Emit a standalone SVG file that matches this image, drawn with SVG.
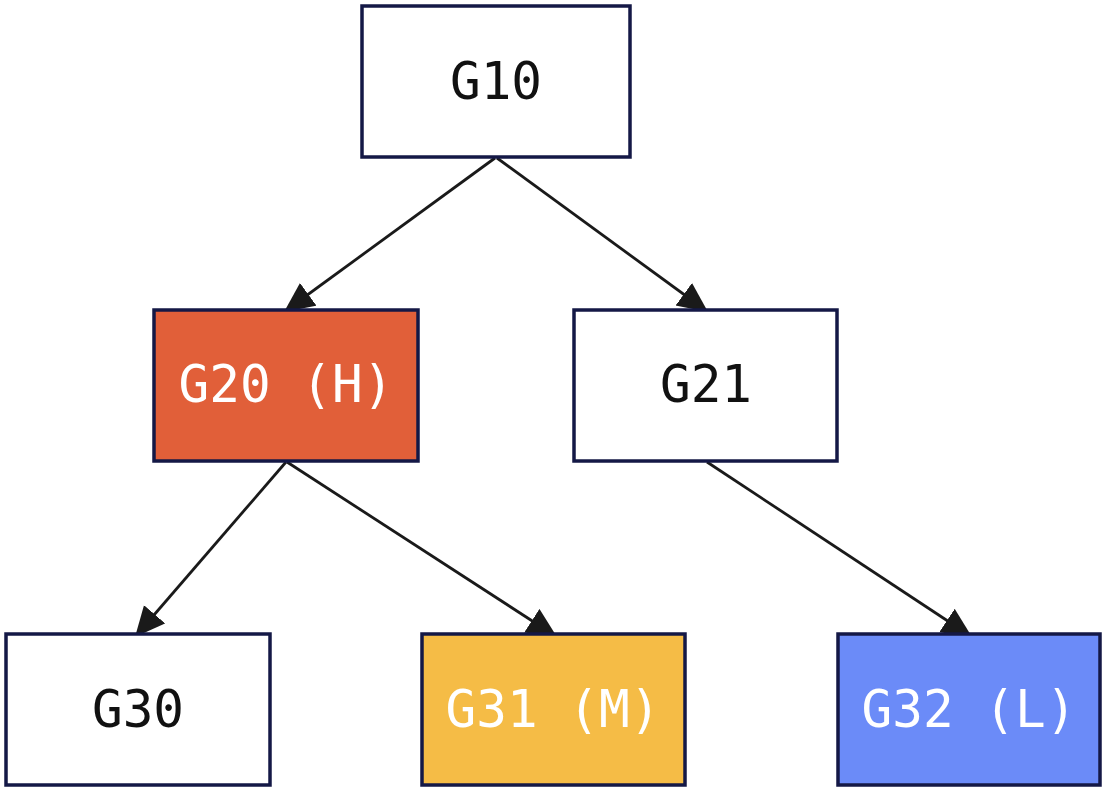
<svg xmlns="http://www.w3.org/2000/svg" width="1104" height="788" viewBox="0 0 1104 788">
<style>
.box{stroke:#141846;stroke-width:3.5}
.lbl{font-family:"DejaVu Sans Mono","Liberation Mono",monospace;font-size:51px;text-anchor:middle}
.dark{fill:#111111}
.light{fill:#ffffff}
.edge{stroke:#1a1a1a;stroke-width:2.8;fill:none;marker-end:url(#ah)}
</style>
<defs>
<marker id="ah" markerUnits="userSpaceOnUse" markerWidth="32" markerHeight="30" refX="30" refY="14" orient="auto">
<path d="M0,0 L30,14 L0,28 Z" fill="#1a1a1a"/>
</marker>
</defs>
<rect width="1104" height="788" fill="#ffffff"/>
<g id="connectors">
<line class="edge" x1="495" y1="158" x2="284" y2="312"/>
<line class="edge" x1="497" y1="158" x2="708" y2="312"/>
<line class="edge" x1="286" y1="462" x2="135" y2="637"/>
<line class="edge" x1="287" y1="462" x2="557" y2="637"/>
<line class="edge" x1="707" y1="462" x2="972" y2="637"/>
</g>
<g id="G10">
<rect class="box" x="362" y="6" width="268" height="151" fill="#ffffff"/>
<text class="lbl dark" x="496" y="99">G10</text>
</g>
<g id="G20">
<rect class="box" x="154" y="310" width="264" height="151" fill="#e15f39"/>
<text class="lbl light" x="286" y="402">G20 (H)</text>
</g>
<g id="G21">
<rect class="box" x="574" y="310" width="263" height="151" fill="#ffffff"/>
<text class="lbl dark" x="706" y="402">G21</text>
</g>
<g id="G30">
<rect class="box" x="6" y="634" width="264" height="151" fill="#ffffff"/>
<text class="lbl dark" x="138" y="727">G30</text>
</g>
<g id="G31">
<rect class="box" x="422" y="634" width="263" height="151" fill="#f5bc46"/>
<text class="lbl light" x="553" y="727">G31 (M)</text>
</g>
<g id="G32">
<rect class="box" x="838" y="634" width="262" height="151" fill="#6b8bf8"/>
<text class="lbl light" x="969" y="727">G32 (L)</text>
</g>
</svg>
